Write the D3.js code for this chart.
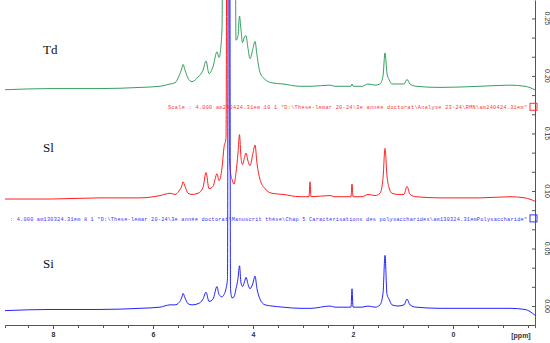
<!DOCTYPE html>
<html>
<head>
<meta charset="utf-8">
<script src="https://cdn.jsdelivr.net/npm/d3@7"></script>
<style>
body { margin: 0; background: #fff; }
svg { display: block; }
.trace { fill: none; stroke-width: 1; }
.axis path, .axis line { stroke: #555; }
.axis text { font-family: "Liberation Sans", sans-serif; font-size: 7px; fill: #333; }
.sampleLabel { font-family: "Liberation Serif", serif; font-size: 13px; fill: #111; }
.info { font-family: "Liberation Mono", monospace; font-size: 5.2px; }
</style>
</head>
<body>
<script>
// Data {{{1
const ppm = [8.96, 8.06, 7.06, 6.26, 5.86, 5.66, 5.56, 5.48, 5.42, 5.40, 5.36, 5.30, 5.22, 5.10, 5.00,
  4.94, 4.88, 4.80, 4.72, 4.68, 4.62, 4.58, 4.54, 4.51, 4.49, 4.47, 4.45, 4.42, 4.38, 4.34,
  4.30, 4.27, 4.24, 4.21, 4.17, 4.14, 4.10, 4.06, 4.00, 3.96, 3.92, 3.86, 3.76, 3.62, 3.40,
  3.06, 2.88, 2.86, 2.84, 2.46, 2.36, 2.04, 2.02, 2.00, 1.82, 1.70, 1.56, 1.46, 1.40, 1.36,
  1.32, 1.28, 1.22, 1.10, 0.98, 0.92, 0.86, 0.74, 0.26, -0.54, -1.14, -1.44, -1.64];

// intensities above each spectrum's own baseline
const tdIntensity = [-0.002, -0.001, -0.001, 0.000, 0.001, 0.003, 0.004, 0.010, 0.017, 0.020, 0.015, 0.008, 0.005, 0.009, 0.015,
  0.023, 0.012, 0.018, 0.031, 0.026, 0.050, 0.5, 0.5, 0.5, 0.5, 0.5, 0.5, 0.5, 0.5, 0.041,
  0.045, 0.062, 0.050, 0.039, 0.044, 0.045, 0.034, 0.025, 0.034, 0.040, 0.028, 0.013, 0.007, 0.004, 0.003,
  0.001, 0.001, 0.001, 0.001, 0.002, 0.001, 0.001, 0.003, 0.001, 0.001, 0.003, 0.002, 0.003, 0.010, 0.030,
  0.012, 0.007, 0.003, 0.003, 0.003, 0.007, 0.003, 0.001, 0.000, 0.001, 0.002, 0.001, -0.002];

const slIntensity = [-0.001, -0.001, 0.000, 0.000, 0.002, 0.004, 0.003, 0.006, 0.011, 0.014, 0.010, 0.004, 0.003, 0.004, 0.009,
  0.022, 0.008, 0.010, 0.021, 0.015, 0.026, 0.044, 0.052, 0.5, 0.5, 0.035, 0.022, 0.016, 0.012, 0.022,
  0.039, 0.055, 0.035, 0.029, 0.035, 0.039, 0.032, 0.028, 0.039, 0.046, 0.030, 0.016, 0.008, 0.004, 0.003,
  0.001, 0.001, 0.014, 0.001, 0.002, 0.001, 0.001, 0.012, 0.001, 0.001, 0.003, 0.002, 0.004, 0.017, 0.043,
  0.019, 0.009, 0.004, 0.003, 0.003, 0.010, 0.003, 0.001, 0.000, 0.000, 0.001, 0.000, -0.003];

const siIntensity = [-0.002, -0.001, -0.001, 0.000, 0.001, 0.003, 0.003, 0.005, 0.010, 0.013, 0.009, 0.004, 0.003, 0.004, 0.008,
  0.014, 0.006, 0.008, 0.019, 0.012, 0.010, 0.012, 0.017, 0.026, 0.5, 0.5, 0.017, 0.009, 0.010, 0.017,
  0.026, 0.037, 0.022, 0.019, 0.023, 0.027, 0.021, 0.017, 0.022, 0.028, 0.017, 0.008, 0.003, 0.002, 0.001,
  0.000, 0.000, 0.000, 0.000, 0.002, 0.001, 0.001, 0.017, 0.001, 0.001, 0.002, 0.001, 0.003, 0.013, 0.046,
  0.012, 0.008, 0.003, 0.002, 0.003, 0.008, 0.003, 0.001, 0.000, 0.000, 0.000, -0.001, -0.006];

const sampleNames = ["Td", "Sl", "Si"];
const sampleBaselines = [0.190, 0.094, -0.002];
const sampleColors = ["#36a060", "#ff1f1f", "#2323ff"];
const sampleLabelY = [0.219, 0.134, 0.033];

const infoTexts = [
  "Scale : 4.000   am240424.31em  10  1  \"D:\\These-lemar 20-24\\3e année doctorat\\Analyse 23-24\\RMN\\am240424.31em\"",
  ": 4.000   am130324.31em  8  1  \"D:\\These-lemar 20-24\\3e année doctorat\\Manuscrit thèse\\Chap 5 Caracterisations des polysaccharides\\am130324.31emPolysaccharide\""
];
const infoLevels = [0.171, 0.074];
const infoStartPpm = [5.70, 8.86];
const infoColors = ["#ff3333", "#3333ff"];

const ppmLabelTicks = [8, 6, 4, 2, 0];
const ppmMinorTicks = d3.range(-1.5, 9, 0.5);
const intensityLabelTicks = [0, 0.05, 0.10, 0.15, 0.20, 0.25];
const intensityMinorTicks = d3.range(0, 16).map((i) => i * 0.05 / 3);

// Main {{{1
function main(width, height) {
    const svg = d3.select("body").append("svg")
        .attr("width", width)
        .attr("height", height);

    const x = d3.scaleLinear().domain([8.96, -1.64]).range([5, 535]);
    const y = d3.scaleLinear().domain([-0.0165, 0.266]).range([325, 0]);

    svg.append("clipPath").attr("id", "plotClip")
        .append("rect").attr("x", 5).attr("y", 0).attr("width", 530).attr("height", 325);

    createAxes(svg, x, y);
    createSpectra(svg, x, y);
    createInfoLines(svg, x, y);
    createSampleLabels(svg, x, y);
}

// Elements {{{1
function createAxes(svg, x, y) {
    svg.append("g").classed("axis", true)
        .attr("transform", "translate(0,325)")
        .call(d3.axisBottom(x).tickValues(ppmMinorTicks).tickSize(3).tickFormat(""));
    const xMajor = svg.append("g").classed("axis", true)
        .attr("transform", "translate(0,325)")
        .call(d3.axisBottom(x).tickValues(ppmLabelTicks).tickSize(4).tickPadding(3).tickFormat(d3.format("d")));
    xMajor.select(".domain").remove();
    xMajor.selectAll("text").style("font-weight", "bold");
    svg.append("text").attr("x", 521).attr("y", 338)
        .attr("text-anchor", "middle")
        .style("font-family", "Liberation Sans, sans-serif").style("font-size", "7px")
        .style("font-weight", "bold").style("fill", "#333")
        .text("[ppm]");

    svg.append("g").classed("axis", true)
        .attr("transform", "translate(535,0)")
        .call(d3.axisRight(y).tickValues(intensityMinorTicks).tickSizeInner(-3).tickSizeOuter(0).tickFormat(""));
    const yMajor = svg.append("g").classed("axis", true)
        .attr("transform", "translate(535,0)")
        .call(d3.axisRight(y).tickValues(intensityLabelTicks).tickSize(0).tickFormat(d3.format(".2f")));
    yMajor.select(".domain").remove();
    yMajor.selectAll(".tick").attr("transform", null);
    yMajor.selectAll("text")
        .attr("x", 0).attr("y", 0).attr("dy", 0)
        .attr("text-anchor", "middle")
        .attr("transform", (d) => "translate(10," + y(d) + ") rotate(90)");
}

function createSpectra(svg, x, y) {
    const series = [tdIntensity, slIntensity, siIntensity];
    const line = d3.line()
        .x((d) => x(d[0]))
        .y((d) => y(d[1]))
        .curve(d3.curveMonotoneX);
    series.forEach((values, i) => {
        const points = ppm.map((p, j) => [p, sampleBaselines[i] + values[j]]);
        svg.append("path")
            .classed("trace", true)
            .attr("clip-path", "url(#plotClip)")
            .attr("stroke", sampleColors[i])
            .attr("d", line(points));
    });
}

function createInfoLines(svg, x, y) {
    infoTexts.forEach((t, i) => {
        svg.append("text")
            .classed("info", true)
            .attr("x", x(infoStartPpm[i]))
            .attr("y", y(infoLevels[i]))
            .attr("textLength", 527 - x(infoStartPpm[i]))
            .attr("lengthAdjust", "spacing")
            .style("fill", infoColors[i])
            .text(t);
        svg.append("rect")
            .attr("x", 530).attr("y", y(infoLevels[i]) - 6)
            .attr("width", 7).attr("height", 7)
            .attr("fill", "none")
            .attr("stroke", infoColors[i]);
    });
}

function createSampleLabels(svg, x, y) {
    svg.selectAll(".sampleLabel")
        .data(sampleNames)
        .join("text")
        .classed("sampleLabel", true)
        .attr("x", x(8.2))
        .attr("y", (d, i) => y(sampleLabelY[i]))
        .text((d) => d);
}

main(550, 343);
</script>
</body>
</html>
